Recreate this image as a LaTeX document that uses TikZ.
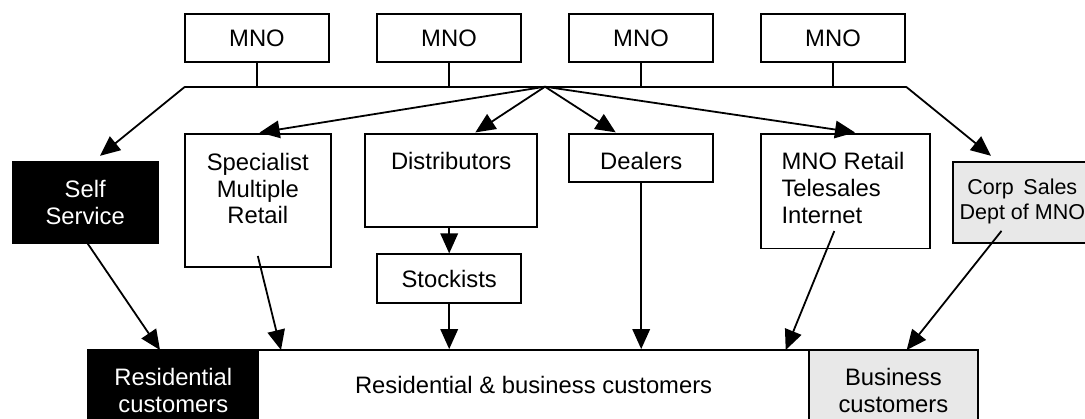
\documentclass[tikz,border=0pt]{standalone}
\usepackage{fontspec}
\setmainfont{Liberation Sans}
\usetikzlibrary{arrows.meta,calc}
\definecolor{lightfill}{RGB}{232,232,232}
\begin{document}
\begin{tikzpicture}[x=1pt,y=-1pt,
  line width=1.8pt,
  box/.style={draw, line width=1.8pt, inner sep=0pt, anchor=center},
  txt/.style={inner sep=0pt, font=\fontsize{23.8}{26.8}\selectfont, align=center},
  smalltxt/.style={inner sep=0pt, font=\fontsize{21.5}{25.6}\selectfont, align=center},
  flow/.style={-{Triangle[length=20pt,width=17.5pt]}, line width=1.8pt},
  link/.style={line width=1.8pt}]
\useasboundingbox (0,0) rectangle (1085,418);
\clip (0,0) rectangle (1085,418);

% operators along the top
\foreach \i/\cx in {1/257,2/449,3/641,4/833}{
  \node[box, txt, minimum width=144.3pt, minimum height=48.3pt] (mno\i) at (\cx,38.2) {MNO};
}

% distribution bus and hub
\coordinate (busl) at (185,86.7);
\coordinate (busr) at (906,86.7);
\coordinate (hub)  at (545,86.7);
\draw[link] (busl) -- (busr);
\foreach \i in {1,...,4}{ \draw[link] (mno\i.south) -- (mno\i.south |- busl); }

% channel boxes
\node[box, fill=black, minimum width=145pt, minimum height=81pt] (self) at (85.2,202.2) {};
\node[txt, text=white, anchor=north] (selftxt) at (85.2,179.1) {Self\\Service};

\node[box, fill=white, minimum width=145.7pt, minimum height=132.5pt] (spec) at (257.8,200.5) {};
\node[txt, anchor=north] (spectxt) at (257.8,152.2) {Specialist\\Multiple\\Retail};

\node[box, fill=white, minimum width=172.3pt, minimum height=92.5pt] (dist) at (451.2,180.4) {};
\node[txt, anchor=north] (disttxt) at (451.2,151.6) {Distributors};

\node[box, txt, fill=white, minimum width=143.7pt, minimum height=48.4pt] (stock) at (449.2,278.5) {Stockists};

\node[box, fill=white, minimum width=144.3pt, minimum height=48.3pt] (deal) at (641.2,158.2) {};
\node[txt, anchor=north] (dealtxt) at (641.2,151.6) {Dealers};

\node[box, fill=white, minimum width=169.3pt, minimum height=114.3pt] (retail) at (845.3,191.3) {};
\node[txt, align=left, anchor=north west] (retailtxt) at (780.6,151.6) {MNO Retail\\Telesales\\Internet};

\node[box, fill=lightfill, minimum width=137pt, minimum height=80.4pt] (corp) at (1021.2,202.5) {};
\node[smalltxt, anchor=north] (corptxt) at (1022.3,177.8) {Corp\ \,Sales\\Dept of MNO};

% customer segments along the bottom
\node[box, fill=white, minimum width=550.7pt, minimum height=80pt] (mid) at (533.65,390) {};
\node[box, fill=black, minimum width=170pt, minimum height=80pt] (res) at (173.3,390) {};
\node[box, fill=lightfill, minimum width=168.7pt, minimum height=80pt] (bus) at (893.35,390) {};
\node[txt, text=white, anchor=north] (restxt) at (173.3,367.2) {Residential\\customers};
\node[txt, anchor=north] (midtxt) at (533.6,375.8) {Residential \& business customers};
\node[txt, anchor=north] (bustxt) at (893.4,367.2) {Business\\customers};

% arrow end points
\coordinate (selftip)   at ($(self.north)+(14.8,-5)$);
\coordinate (spectip)   at ($(spec.north)+(1.8,-0.8)$);
\coordinate (disttip)   at ($(dist.north)+(24.1,-0.8)$);
\coordinate (dealtip)   at ($(deal.north)+(-25.5,-0.8)$);
\coordinate (retailtip) at ($(retail.north)+(9.7,-0.8)$);
\coordinate (corptip)   at ($(corp.north)+(-30.2,-5.6)$);

\coordinate (selfout)   at ($(self.south)+(2.5,0)$);
\coordinate (specout)   at ($(spec.south)+(0,-11.7)$);
\coordinate (retailout) at ($(retail.south)+(-11,-18.3)$);
\coordinate (corpout)   at ($(corp.south)+(-19.7,-12.7)$);

\coordinate (selfin)    at (160,350);
\coordinate (specin)    at (281,350);
\coordinate (retailin)  at (785.7,350);
\coordinate (corpin)    at (906.7,350);

% supply flows
\draw[flow] (busl) -- (selftip);
\draw[flow] (hub) -- (spectip);
\draw[flow] (hub) -- (disttip);
\draw[flow] (hub) -- (dealtip);
\draw[flow] (hub) -- (retailtip);
\draw[flow] (busr) -- (corptip);
\draw[flow] (stock.north |- dist.south) -- (stock.north);

% flows to customers
\draw[flow] (selfout) -- (selfin);
\draw[flow] (specout) -- (specin);
\draw[flow] (stock.south) -- (stock.south |- mid.north);
\draw[flow] (deal.south) -- (deal.south |- mid.north);
\draw[flow] (retailout) -- (retailin);
\draw[flow] (corpout) -- (corpin);
\end{tikzpicture}
\end{document}
